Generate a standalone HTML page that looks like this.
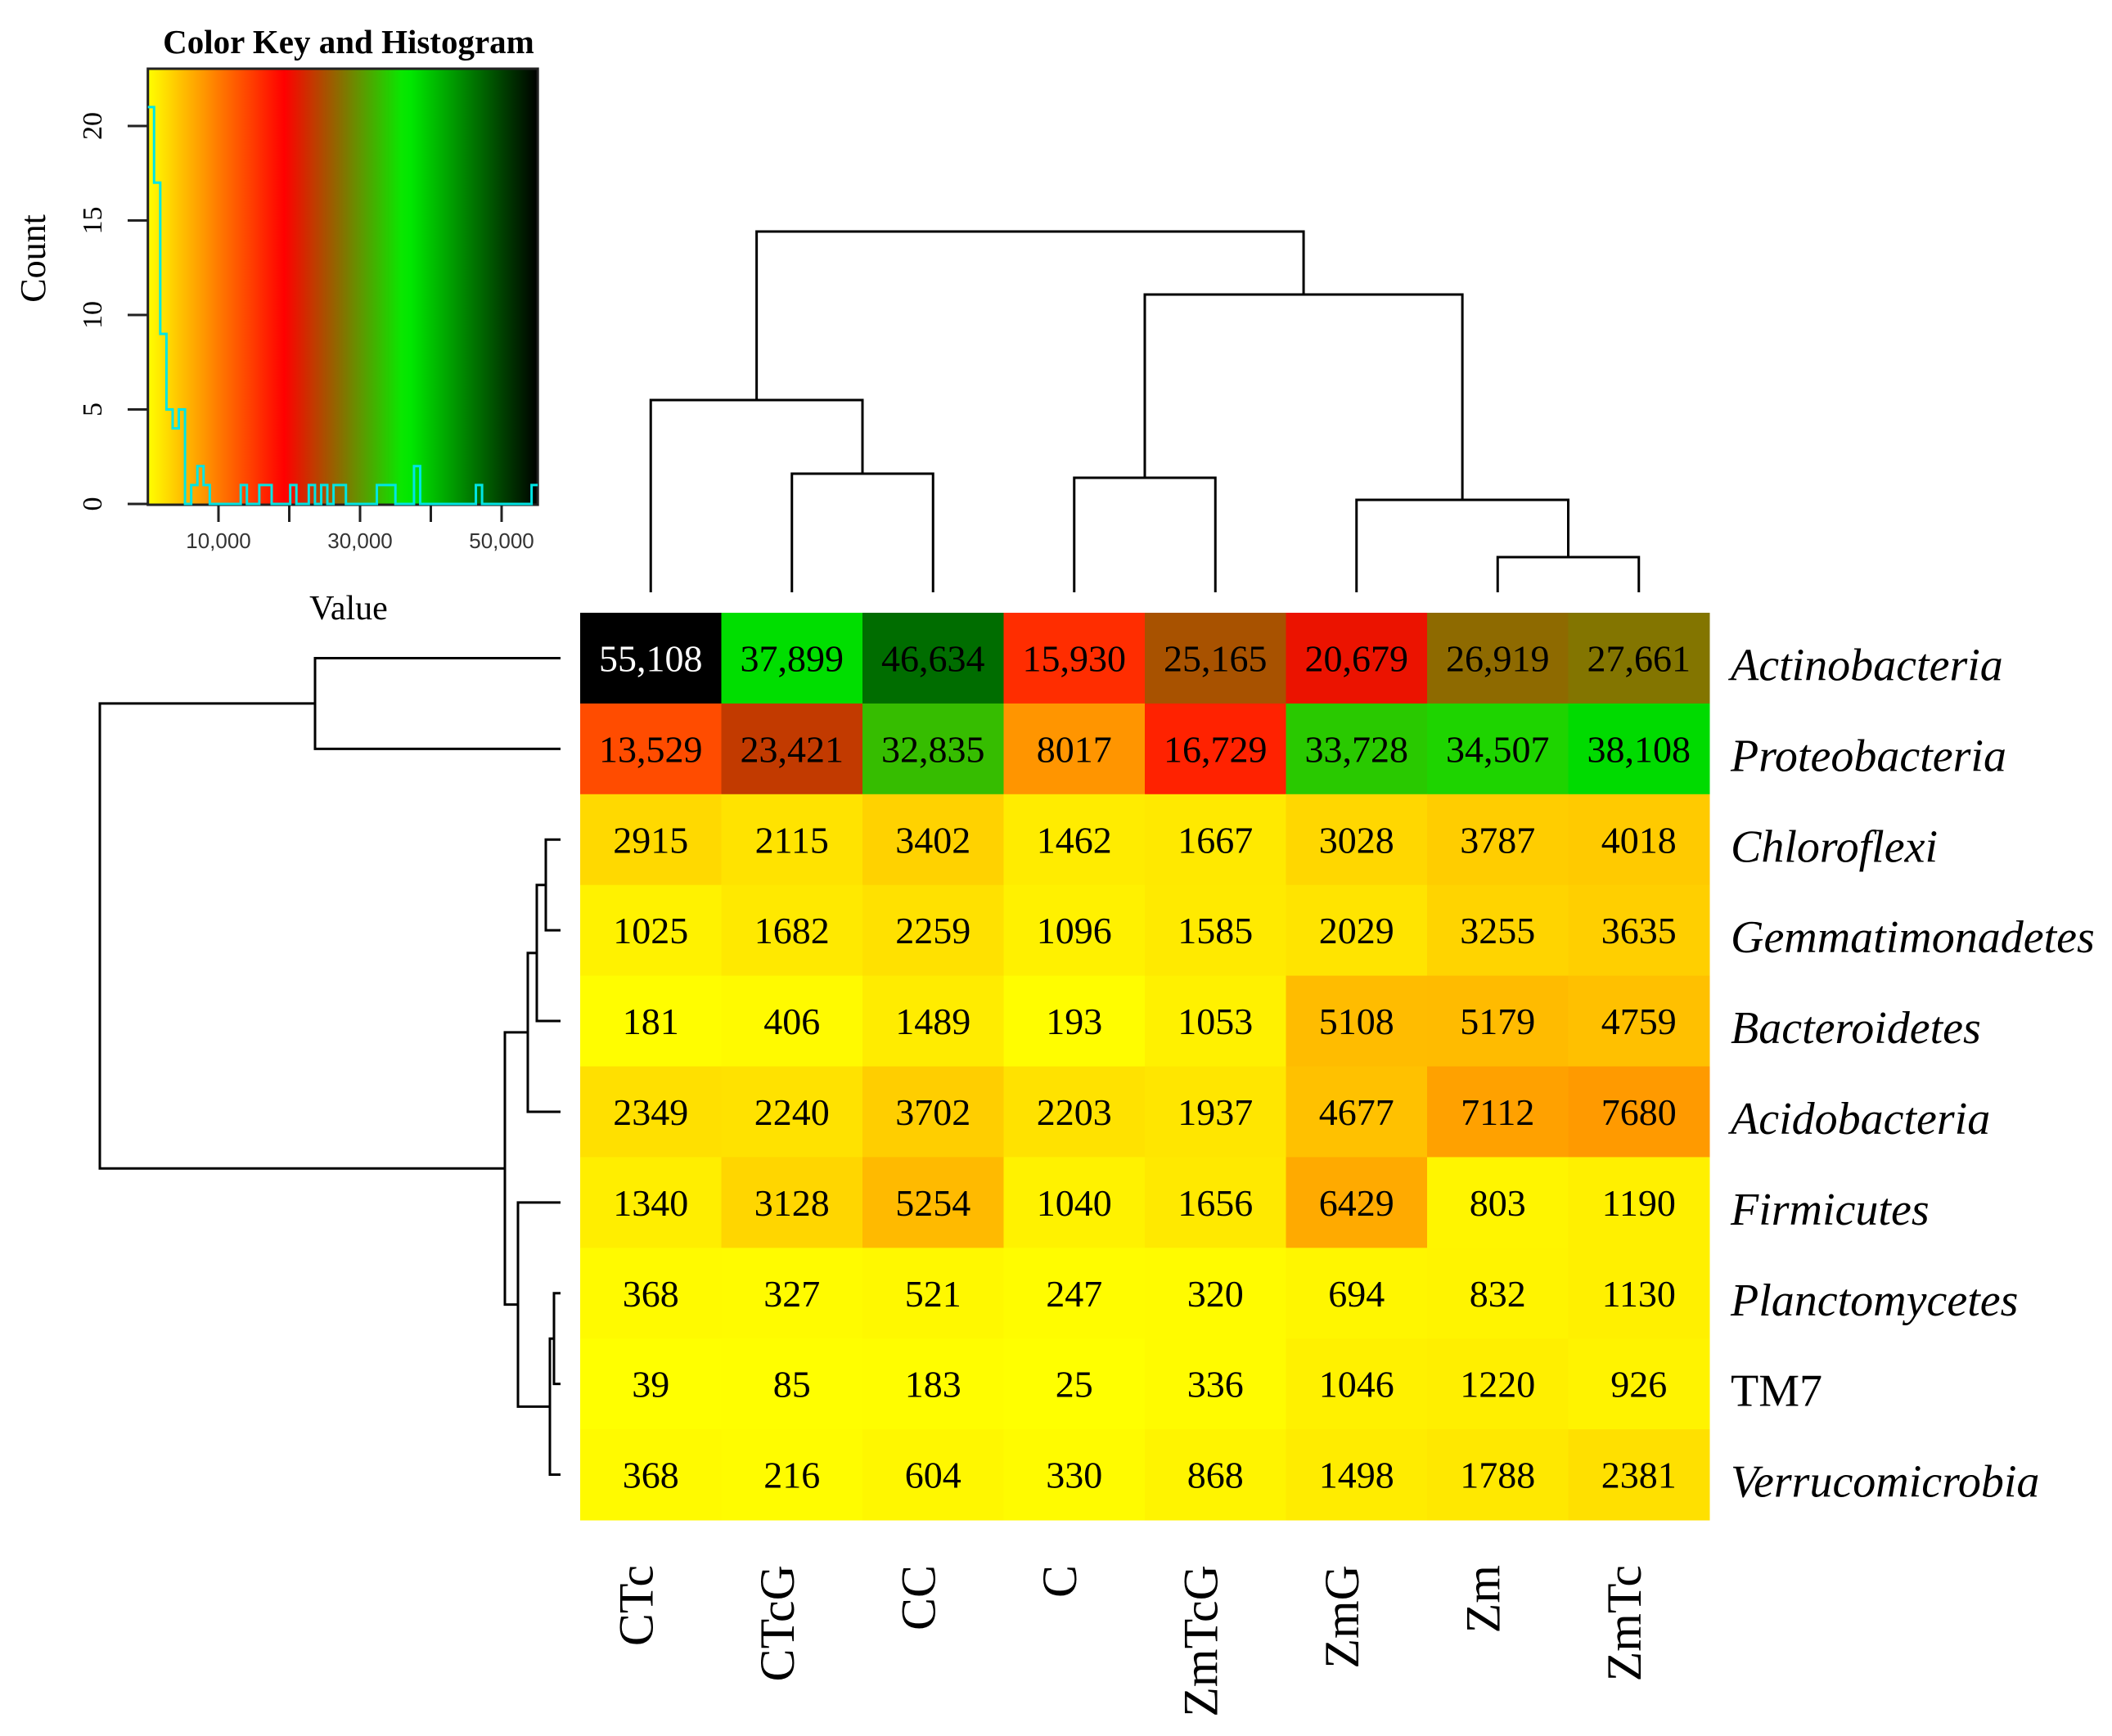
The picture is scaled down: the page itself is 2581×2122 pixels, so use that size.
<!DOCTYPE html>
<html><head><meta charset="utf-8"><style>
html,body{margin:0;padding:0;background:#fff;}
svg{display:block;}
text{font-family:"Liberation Serif",serif;}
</style></head><body>
<svg id="chart" width="2581" height="2122" viewBox="0 0 2581 2122" xmlns="http://www.w3.org/2000/svg">
<defs><linearGradient id="keygrad" x1="0" x2="1" y1="0" y2="0"></linearGradient></defs>
<g id="keyg"></g>
<g id="coldend"></g>
<g id="rowdend"></g>
<g id="cells"></g>
<g id="labels"></g>
</svg>
<script>
const columns = ["CTc","CTcG","CC","C","ZmTcG","ZmG","Zm","ZmTc"];
const rows = ["Actinobacteria","Proteobacteria","Chloroflexi","Gemmatimonadetes","Bacteroidetes","Acidobacteria","Firmicutes","Planctomycetes","TM7","Verrucomicrobia"];
const rowItalic = [true,true,true,true,true,true,true,true,false,true];
const values = [
 [55108,37899,46634,15930,25165,20679,26919,27661],
 [13529,23421,32835,8017,16729,33728,34507,38108],
 [2915,2115,3402,1462,1667,3028,3787,4018],
 [1025,1682,2259,1096,1585,2029,3255,3635],
 [181,406,1489,193,1053,5108,5179,4759],
 [2349,2240,3702,2203,1937,4677,7112,7680],
 [1340,3128,5254,1040,1656,6429,803,1190],
 [368,327,521,247,320,694,832,1130],
 [39,85,183,25,336,1046,1220,926],
 [368,216,604,330,868,1498,1788,2381]
];
const valueLabels = [
 ["55,108","37,899","46,634","15,930","25,165","20,679","26,919","27,661"],
 ["13,529","23,421","32,835","8017","16,729","33,728","34,507","38,108"]
];
const colorStopValues = [25, 19300, 36500, 55108];
const colorStopColors = [[255,255,0],[255,0,0],[0,240,0],[0,0,0]];
const keyTicks = [10000, 20000, 30000, 40000, 50000];
const keyTickLabels = ["10,000","","30,000","","50,000"];
const countTicks = [0,5,10,15,20];
const histBins = 63;
const colMerges = [[-7,-8,681],[-2,-3,579],[-4,-5,584],[-6,0,611],[-1,1,489],[2,3,360],[4,5,283]];
const rowMerges = [[-3,-4,667],[0,-5,656],[1,-6,645],[-8,-9,677],[3,-10,672],[-7,4,633],[2,5,617],[-1,-2,385],[7,6,122]];

const NS="http://www.w3.org/2000/svg";
function mk(tag, attrs, parent){const e=document.createElementNS(NS,tag);for(const k in attrs)e.setAttribute(k,attrs[k]);parent.appendChild(e);return e;}
function colorOf(v){
  let i=0; while(i<colorStopValues.length-2 && v>colorStopValues[i+1]) i++;
  let t=(v-colorStopValues[i])/(colorStopValues[i+1]-colorStopValues[i]); t=Math.max(0,Math.min(1,t));
  const a=colorStopColors[i], b=colorStopColors[i+1];
  return "rgb("+a.map((c,k)=>Math.round(c+(b[k]-c)*t)).join(",")+")";
}
const HX0=709, HX1=2089, HY0=749, HY1=1858;
const cw=(HX1-HX0)/columns.length, rh=(HY1-HY0)/rows.length;
const colX=i=>HX0+cw*(i+0.5), rowY=j=>HY0+rh*(j+0.5);
const cellsG=document.getElementById('cells');
const labelsG=document.getElementById('labels');
for(let j=0;j<rows.length;j++){
  for(let i=0;i<columns.length;i++){
    const v=values[j][i];
    const r=mk('rect',{x:HX0+cw*i,y:HY0+rh*j,width:cw+0.5,height:rh+0.5,fill:colorOf(v)},cellsG);
    
    
    const lbl=(valueLabels[j]&&valueLabels[j][i])?valueLabels[j][i]:String(v);
    const t=mk('text',{x:colX(i),y:rowY(j)+16,'text-anchor':'middle','font-size':46,fill:v>50000?'#fff':'#000'},cellsG);
    t.textContent=lbl;
    
    
  }
  const rl=mk('text',{x:2115,y:rowY(j)+27,'font-size':56,'font-style':rowItalic[j]?'italic':'normal'},labelsG);
  rl.textContent=rows[j];
  
  
}
for(let i=0;i<columns.length;i++){
  const cx=colX(i)+2;
  const t=mk('text',{x:0,y:0,transform:`translate(${cx},1913) rotate(-90)`,'font-size':60,'text-anchor':'end'},labelsG);
  t.textContent=columns[i];
  
  
}
function dend(merges, leafPos, leafEdge, horizontal, g){
  const pos=[], hgt=[];
  const P=c=>c<0?leafPos(-c-1):pos[c];
  const H=c=>c<0?leafEdge:hgt[c];
  merges.forEach((m,k)=>{
    const p1=P(m[0]),p2=P(m[1]),h=m[2];
    pos[k]=(p1+p2)/2; hgt[k]=h;
    let d;
    if(horizontal) d=`M${p1},${H(m[0])}V${h}H${p2}V${H(m[1])}`;
    else d=`M${H(m[0])},${p1}H${h}V${p2}H${H(m[1])}`;
    const p=mk('path',{d:d,fill:'none',stroke:'#000','stroke-width':3},g);
    
    
  });
}
dend(colMerges, colX, 724, true, document.getElementById('coldend'));
dend(rowMerges, rowY, 685, false, document.getElementById('rowdend'));

const kg=document.getElementById('keyg');
const KY0=84, KY1=617;
const vmin=colorStopValues[0], vmax=colorStopValues[colorStopValues.length-1];
const kx=v=>267+(v-10000)*0.00865;
const ky=c=>616-c*23.1;
const grad=document.getElementById('keygrad');
for(let s=0;s<=40;s++){
  const v=vmin+(vmax-vmin)*s/40;
  mk('stop',{offset:(s/40),'stop-color':colorOf(v)},grad);
}
const kr=mk('rect',{x:kx(vmin),y:KY0,width:kx(vmax)-kx(vmin),height:KY1-KY0,fill:'url(#keygrad)',stroke:'#222','stroke-width':3},kg);


const flat=values.flat();
const bw=(vmax-vmin)/histBins;
const counts=new Array(histBins).fill(0);
flat.forEach(v=>{let b=Math.floor((v-vmin)/bw); if(b>=histBins)b=histBins-1; counts[b]++;});
let hd=`M${kx(vmin)},${ky(counts[0])}`;
for(let b=0;b<histBins;b++){
  hd+=`H${kx(vmin+bw*(b+1))}`;
  if(b<histBins-1) hd+=`V${ky(counts[b+1])}`;
}
const hp=mk('path',{d:hd,fill:'none',stroke:'#00e5e5','stroke-width':3},kg);


keyTicks.forEach((v,i)=>{
  mk('line',{x1:kx(v),x2:kx(v),y1:618,y2:638,stroke:'#222','stroke-width':3},kg);
  if(keyTickLabels[i]){
    const t=mk('text',{x:kx(v),y:670,'text-anchor':'middle','font-size':26,fill:'#333',style:'font-family:"Liberation Sans",sans-serif'},kg);
    t.textContent=keyTickLabels[i];
    
    
  }
});
countTicks.forEach(c=>{
  mk('line',{x1:156,x2:181,y1:ky(c),y2:ky(c),stroke:'#222','stroke-width':3},kg);
  const t=mk('text',{x:0,y:0,transform:`translate(124,${ky(c)}) rotate(-90)`,'text-anchor':'middle','font-size':34},kg);
  t.textContent=String(c);
  
  
});
const ct=mk('text',{x:0,y:0,transform:'translate(55,316) rotate(-90)','text-anchor':'middle','font-size':44},kg);
ct.textContent='Count';


const tt=mk('text',{x:426,y:65,'text-anchor':'middle','font-size':41,'font-weight':'bold'},kg);
tt.textContent='Color Key and Histogram';


const vt=mk('text',{x:426,y:757,'text-anchor':'middle','font-size':42},kg);
vt.textContent='Value';


</script>
</body></html>
